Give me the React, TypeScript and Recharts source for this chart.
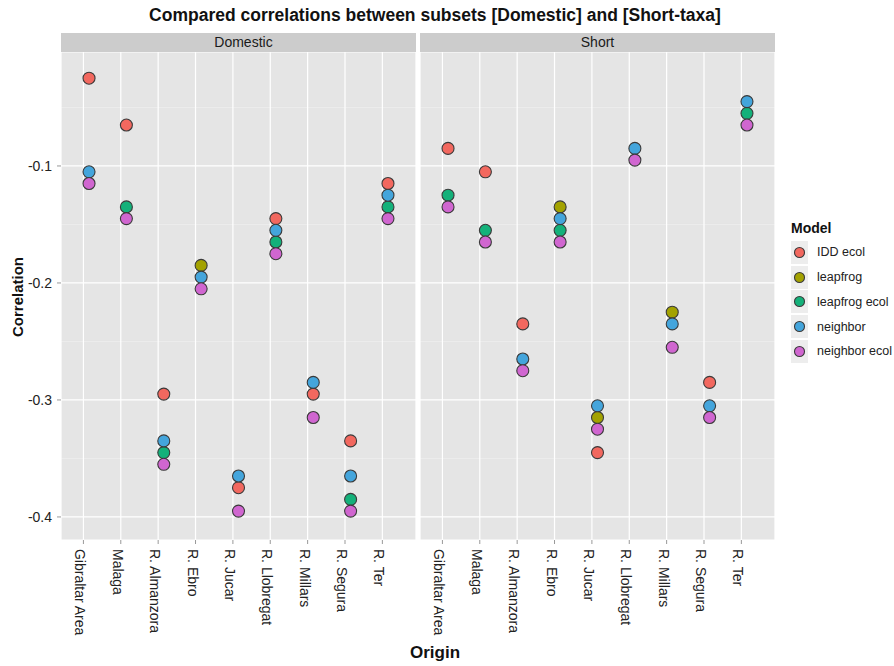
import { ScatterChart, Scatter, XAxis, YAxis, CartesianGrid } from "recharts";

const origins = [
  "Gibraltar Area",
  "Malaga",
  "R. Almanzora",
  "R. Ebro",
  "R. Jucar",
  "R. Llobregat",
  "R. Millars",
  "R. Segura",
  "R. Ter",
];

const models = ["IDD ecol", "leapfrog", "leapfrog ecol", "neighbor", "neighbor ecol"];
const modelColors = ["#F2685F", "#A3A200", "#14B17A", "#44A5DC", "#D066D0"];

// Domestic panel (null = point hidden / absent)
const domIdd = [-0.025, -0.065, -0.295, null, -0.375, -0.145, -0.295, -0.335, -0.115];
const domLeapfrog = [null, null, null, -0.185, null, null, null, null, null];
const domLeapfrogEcol = [null, -0.135, -0.345, null, null, -0.165, null, -0.385, -0.135];
const domNeighbor = [-0.105, null, -0.335, -0.195, -0.365, -0.155, -0.285, -0.365, -0.125];
const domNeighborEcol = [-0.115, -0.145, -0.355, -0.205, -0.395, -0.175, -0.315, -0.395, -0.145];

// Short panel
const shortIdd = [-0.085, -0.105, -0.235, null, -0.345, null, null, -0.285, null];
const shortLeapfrog = [null, null, null, -0.135, -0.315, null, -0.225, null, null];
const shortLeapfrogEcol = [-0.125, -0.155, null, -0.155, null, null, null, null, -0.055];
const shortNeighbor = [null, null, -0.265, -0.145, -0.305, -0.085, -0.235, -0.305, -0.045];
const shortNeighborEcol = [-0.135, -0.165, -0.275, -0.165, -0.325, -0.095, -0.255, -0.315, -0.065];

const yTicks = [-0.4, -0.3, -0.2, -0.1];
const yMinor = [-0.35, -0.25, -0.15, -0.05];
const xTicks = origins.map((_, i) => i);

const NUDGE = 0.15; // points sit a little right of the category tick
const FONT = '"Liberation Sans", Arial, sans-serif';

type Pt = { x: number; y: number; origin: string };

const toPoints = (vals: (number | null)[]): Pt[] =>
  vals.flatMap((v, i) => (v == null ? [] : [{ x: i + NUDGE, y: v, origin: origins[i] }]));

const domesticSeries = [domIdd, domLeapfrog, domLeapfrogEcol, domNeighbor, domNeighborEcol].map(toPoints);
const shortSeries = [shortIdd, shortLeapfrog, shortLeapfrogEcol, shortNeighbor, shortNeighborEcol].map(toPoints);

const dot = (color: string) => (p: any) =>
  <circle cx={p.cx} cy={p.cy} r={6} fill={color} stroke="#3a3a3a" strokeWidth={1.1} />;

const OriginTick = (props: any) => {
  const { x, y, payload } = props;
  const label = origins[Math.round(payload.value)];
  return (
    <text
      x={x}
      y={y}
      transform={`rotate(90, ${x}, ${y})`}
      textAnchor="start"
      dominantBaseline="central"
      dy={3}
      fontSize={14}
      fill="#222"
      fontFamily={FONT}
    >
      {label}
    </text>
  );
};

function Panel({ series, showY, width }: { series: Pt[][]; showY: boolean; width: number }) {
  return (
    <ScatterChart width={width} height={666} margin={{ top: 52, right: 0, bottom: 0, left: showY ? 25 : 0 }}>
      <CartesianGrid fill="#E5E5E5" stroke="#F2F2F2" strokeWidth={0.6} vertical={false} horizontalValues={yMinor} />
      <CartesianGrid stroke="#FFFFFF" strokeWidth={1.2} />
      <XAxis
        type="number"
        dataKey="x"
        domain={[-0.6, 8.9]}
        ticks={xTicks}
        interval={0}
        height={126}
        axisLine={false}
        tickLine={{ stroke: "#999" }}
        tickSize={4}
        tickMargin={5}
        tick={<OriginTick />}
      />
      <YAxis
        type="number"
        dataKey="y"
        domain={[-0.4197, -0.0026]}
        ticks={yTicks}
        hide={!showY}
        width={36}
        axisLine={false}
        tickLine={{ stroke: "#999" }}
        tickSize={4}
        tickMargin={5}
        tickFormatter={(v: number) => v.toFixed(1)}
        tick={{ fill: "#222", fontSize: 14, fontFamily: FONT }}
      />
      {series.map((pts, i) => (
        <Scatter key={models[i]} name={models[i]} data={pts} shape={dot(modelColors[i])} isAnimationActive={false} />
      ))}
    </ScatterChart>
  );
}

const strip = (left: number, label: string, shift: number) => (
  <div
    style={{
      position: "absolute",
      left,
      top: 33,
      width: 355,
      height: 19,
      background: "#CCCCCC",
      color: "#1a1a1a",
      fontSize: 14,
      lineHeight: "19px",
      textAlign: "center",
      paddingLeft: shift,
      boxSizing: "border-box",
    }}
  >
    {label}
  </div>
);

export default function App() {
  return (
    <div
      style={{
        position: "absolute",
        left: 0,
        top: 0,
        width: 894,
        height: 666,
        background: "#fff",
        fontFamily: FONT,
        overflow: "hidden",
      }}
    >
      <div
        style={{
          position: "absolute",
          left: 0,
          top: 5,
          width: 870,
          textAlign: "center",
          fontWeight: "bold",
          fontSize: 17.5,
          color: "#111",
          whiteSpace: "nowrap",
        }}
      >
        Compared correlations between subsets [Domestic] and [Short-taxa]
      </div>

      <div style={{ position: "absolute", left: 0, top: 0 }}>
        <Panel series={domesticSeries} showY={true} width={416} />
      </div>
      <div style={{ position: "absolute", left: 420, top: 0 }}>
        <Panel series={shortSeries} showY={false} width={355} />
      </div>

      {strip(61, "Domestic", 10)}
      {strip(420, "Short", 0)}

      <div
        style={{
          position: "absolute",
          left: 17,
          top: 297,
          transform: "translate(-50%, -50%) rotate(-90deg)",
          fontWeight: "bold",
          fontSize: 15,
          color: "#111",
          whiteSpace: "nowrap",
        }}
      >
        Correlation
      </div>

      <div
        style={{
          position: "absolute",
          left: 0,
          top: 643,
          width: 870,
          textAlign: "center",
          fontWeight: "bold",
          fontSize: 17,
          color: "#111",
        }}
      >
        Origin
      </div>

      <div style={{ position: "absolute", left: 791, top: 220 }}>
        <div style={{ fontWeight: "bold", fontSize: 14, color: "#111", height: 20 }}>Model</div>
        {models.map((m, i) => (
          <div key={m} style={{ display: "flex", alignItems: "center", height: 24.75 }}>
            <svg width={17} height={23} style={{ display: "block" }}>
              <rect x={0} y={0} width={17} height={23} fill="#EDEDED" />
              <circle cx={8.5} cy={11.5} r={5} fill={modelColors[i]} stroke="#3a3a3a" strokeWidth={1.1} />
            </svg>
            <span style={{ marginLeft: 9, fontSize: 12.5, color: "#222", whiteSpace: "nowrap" }}>{m}</span>
          </div>
        ))}
      </div>
    </div>
  );
}
